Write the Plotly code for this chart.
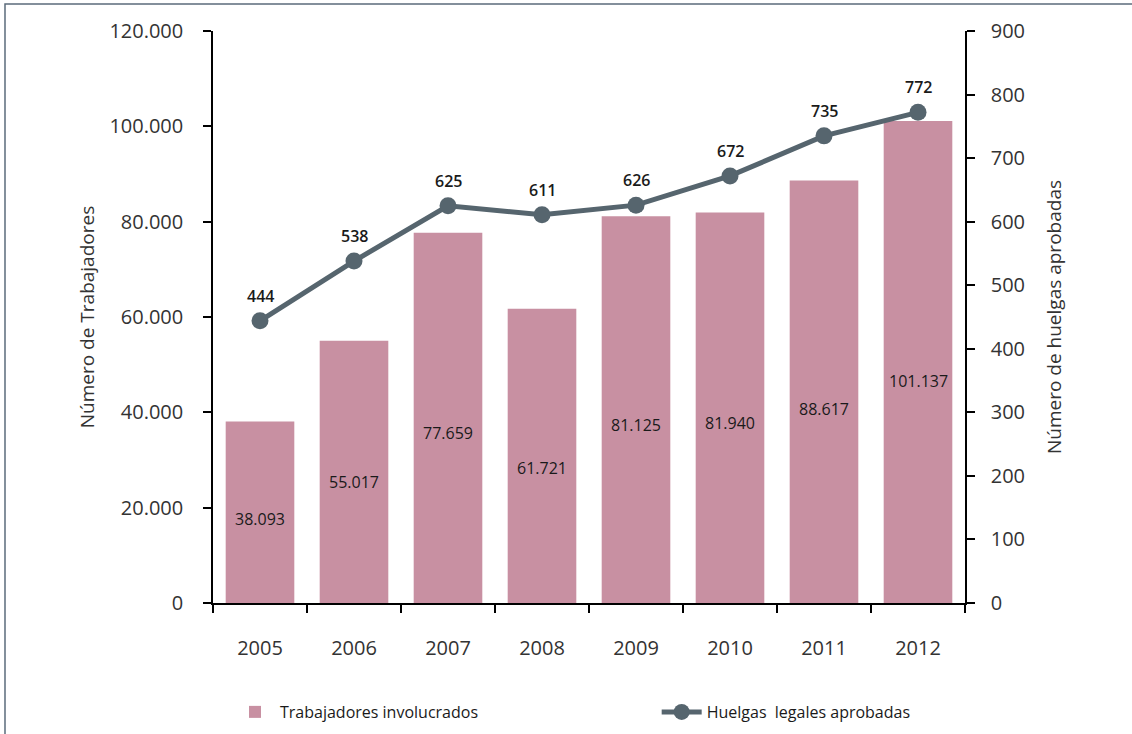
import plotly.graph_objects as go

years = ["2005", "2006", "2007", "2008", "2009", "2010", "2011", "2012"]
trabajadores = [38093, 55017, 77659, 61721, 81125, 81940, 88617, 101137]
huelgas = [444, 538, 625, 611, 626, 672, 735, 772]

left_ticks = [0, 20000, 40000, 60000, 80000, 100000, 120000]
left_tick_text = ["0", "20.000", "40.000", "60.000", "80.000", "100.000", "120.000"]
right_ticks = [0, 100, 200, 300, 400, 500, 600, 700, 800, 900]

BAR_COLOR = "#c890a2"
LINE_COLOR = "#56656e"
FONT = "Open Sans"

xpos = list(range(len(years)))
boundaries = [i - 0.5 for i in range(len(years) + 1)]


def fmt(v):
    return f"{v:,}".replace(",", ".")


fig = go.Figure()
fig.add_trace(go.Bar(
    x=xpos, y=trabajadores, name="Trabajadores involucrados",
    marker=dict(color=BAR_COLOR, line=dict(width=0)), width=0.73,
    hoverinfo="skip", legend="legend",
))
fig.add_trace(go.Scatter(
    x=xpos, y=huelgas, name="Huelgas  legales aprobadas", yaxis="y2",
    mode="lines+markers",
    line=dict(color=LINE_COLOR, width=5),
    marker=dict(color=LINE_COLOR, size=17),
    legend="legend2",
))

annotations = []
for xp, v in zip(xpos, trabajadores):
    annotations.append(dict(
        x=xp, y=v * 0.46, xref="x", yref="y", text=fmt(v), showarrow=False,
        font=dict(family=FONT, size=16, color="#1a1a1a"),
    ))
for xp, v in zip(xpos, huelgas):
    annotations.append(dict(
        x=xp, y=v, xref="x", yref="y2", text=str(v), showarrow=False,
        yshift=25, font=dict(family=FONT, size=16, color="#1a1a1a", weight=600),
    ))

legend_common = dict(
    orientation="h", yanchor="middle", xanchor="left", yref="container",
    font=dict(family=FONT, size=16, color="#1a1a1a"),
    itemwidth=40, bgcolor="rgba(0,0,0,0)",
)

fig.update_layout(
    width=1132, height=734,
    margin=dict(l=213, r=167, t=31, b=131),
    paper_bgcolor="white", plot_bgcolor="white",
    font=dict(family=FONT, color="#333333"),
    showlegend=True,
    legend=dict(x=0.0226, y=0.03, **legend_common),
    legend2=dict(x=0.590, y=0.03, **legend_common),
    xaxis=dict(
        range=[-0.5, len(years) - 0.5], tickmode="array", tickvals=xpos,
        ticktext=years, tickangle=0, ticks="",
        showline=True, linecolor="black", linewidth=1.5,
        tickfont=dict(family=FONT, size=20, color="#333333"),
        ticklabelstandoff=26, showgrid=False, zeroline=False,
        minor=dict(tickmode="array", tickvals=boundaries, ticks="outside",
                   ticklen=8, tickcolor="black", tickwidth=1.5, showgrid=False),
    ),
    yaxis=dict(
        range=[0, 120000], tickvals=left_ticks, ticktext=left_tick_text,
        showline=True, linecolor="black", linewidth=1.5,
        ticks="outside", ticklen=8, tickcolor="black", tickwidth=1.5,
        tickfont=dict(family=FONT, size=20, color="#333333"),
        ticklabelstandoff=16, showgrid=False, zeroline=False,
        title=dict(text="Número de Trabajadores", standoff=10,
                   font=dict(family=FONT, size=19, color="#333333")),
    ),
    yaxis2=dict(
        overlaying="y", side="right", range=[0, 900], tickvals=right_ticks,
        showline=True, linecolor="black", linewidth=1.5,
        ticks="outside", ticklen=8, tickcolor="black", tickwidth=1.5,
        tickfont=dict(family=FONT, size=20, color="#333333"),
        ticklabelstandoff=12, showgrid=False, zeroline=False,
        title=dict(text="Número de huelgas aprobadas", standoff=24,
                   font=dict(family=FONT, size=19, color="#333333")),
    ),
    annotations=annotations,
    shapes=[dict(
        type="rect", xref="paper", yref="paper",
        x0=-0.2766, x1=1.5, y0=-0.5, y1=1.0472,
        line=dict(color="#5b6b7b", width=1.5), layer="below",
    )],
)

fig.write_html("out.html", config={"displayModeBar": False},
               post_script="document.body.style.margin='0';")
